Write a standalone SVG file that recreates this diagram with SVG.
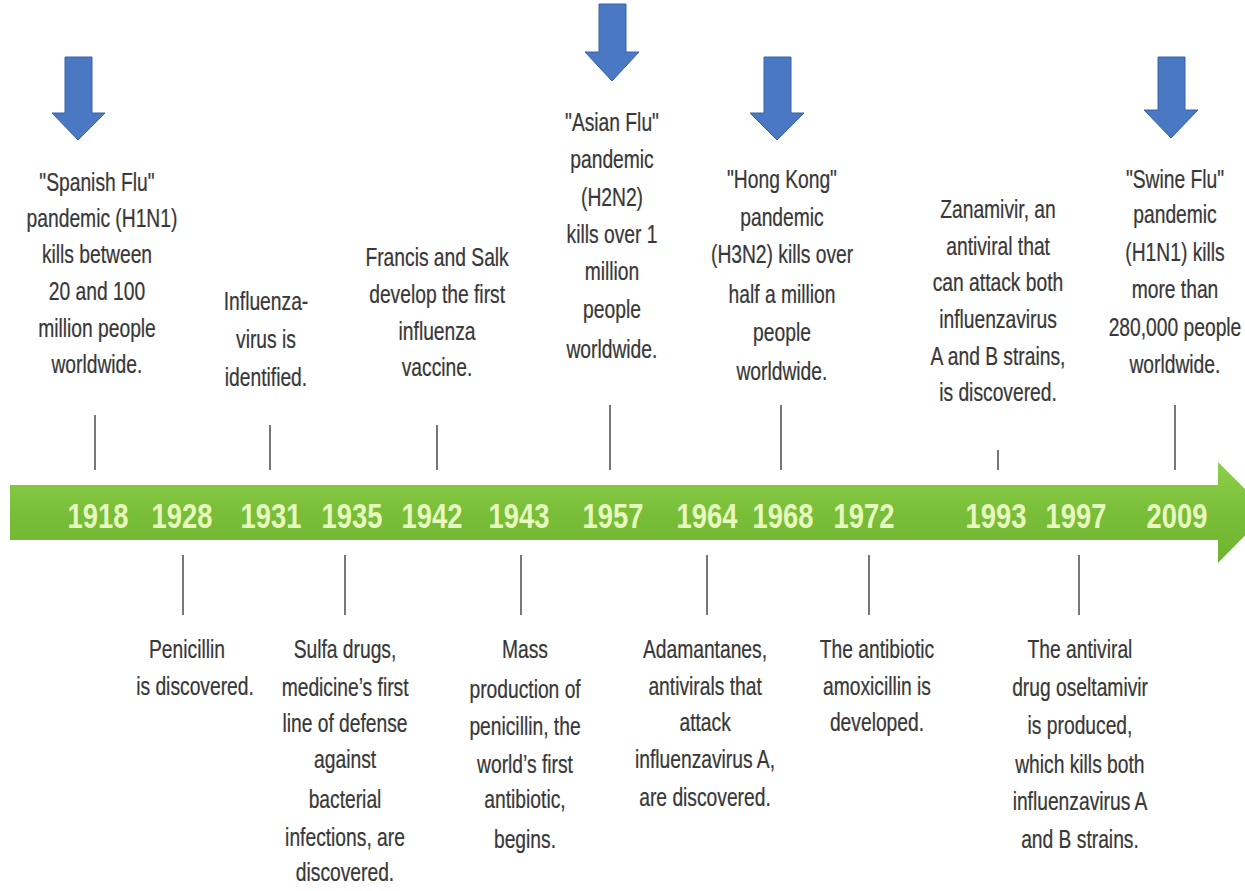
<svg xmlns="http://www.w3.org/2000/svg" width="1245" height="891" viewBox="0 0 1245 891">
<style>
.t{font-family:"Liberation Sans",Arial,sans-serif;font-size:25px;fill:#383838;stroke:#383838;stroke-width:0.25;text-anchor:middle;transform-box:fill-box;transform-origin:center;transform:scaleX(0.77)}
.yr{font-family:"Liberation Sans",Arial,sans-serif;font-size:36px;font-weight:bold;fill:#e8f9c0;text-anchor:middle;transform-box:fill-box;transform-origin:center;transform:scaleX(0.76)}
.tick{stroke:#555;stroke-width:1.6;fill:none}
.blue{fill:#4a78c2;stroke:#3a62a6;stroke-width:1}
</style>
<defs>
<linearGradient id="g" x1="0" y1="0" x2="0" y2="1">
<stop offset="0" stop-color="#8ccf4c"/>
<stop offset="0.5" stop-color="#79be38"/>
<stop offset="1" stop-color="#70b531"/>
</linearGradient>
</defs>
<rect width="1245" height="891" fill="#ffffff"/>

<g id="timeline">
<path d="M10,485 H1218 V462 L1268,512 L1218,563 V540 H10 Z" fill="url(#g)"/>
<text class="yr" x="98" y="528">1918</text>
<text class="yr" x="182" y="528">1928</text>
<text class="yr" x="271" y="528">1931</text>
<text class="yr" x="352" y="528">1935</text>
<text class="yr" x="432" y="528">1942</text>
<text class="yr" x="519" y="528">1943</text>
<text class="yr" x="613" y="528">1957</text>
<text class="yr" x="707" y="528">1964</text>
<text class="yr" x="783" y="528">1968</text>
<text class="yr" x="864" y="528">1972</text>
<text class="yr" x="996" y="528">1993</text>
<text class="yr" x="1076" y="528">1997</text>
<text class="yr" x="1177" y="528">2009</text>
</g>

<g id="connectors">
<line class="tick" x1="95" y1="415" x2="95" y2="470"/>
<line class="tick" x1="270" y1="425" x2="270" y2="470"/>
<line class="tick" x1="437" y1="425" x2="437" y2="470"/>
<line class="tick" x1="610" y1="405" x2="610" y2="470"/>
<line class="tick" x1="781" y1="405" x2="781" y2="470"/>
<line class="tick" x1="998" y1="450" x2="998" y2="470"/>
<line class="tick" x1="1175" y1="405" x2="1175" y2="470"/>
<line class="tick" x1="183" y1="555" x2="183" y2="615"/>
<line class="tick" x1="345" y1="555" x2="345" y2="615"/>
<line class="tick" x1="521" y1="555" x2="521" y2="615"/>
<line class="tick" x1="707" y1="555" x2="707" y2="615"/>
<line class="tick" x1="869" y1="555" x2="869" y2="615"/>
<line class="tick" x1="1079" y1="555" x2="1079" y2="615"/>
</g>

<g id="arrow-1918"><path class="blue" d="M65,57 H92 V113 H105 L78,140 L52,113 H65 Z"/></g>
<g id="arrow-1957"><path class="blue" d="M599,4 H626 V52 H639 L612,81 L585,52 H599 Z"/></g>
<g id="arrow-1968"><path class="blue" d="M764,57 H791 V113 H804 L777,140 L750,113 H764 Z"/></g>
<g id="arrow-2009"><path class="blue" d="M1158,57 H1185 V110 H1198 L1171,138 L1144,110 H1158 Z"/></g>

<g id="node-1918">
<text class="t" x="97" y="191">"Spanish Flu"</text>
<text class="t" x="102" y="227">pandemic  (H1N1)</text>
<text class="t" x="97" y="263">kills between</text>
<text class="t" x="97" y="300">20 and 100</text>
<text class="t" x="97" y="337">million people</text>
<text class="t" x="97" y="373">worldwide.</text>
</g>
<g id="node-1928">
<text class="t" x="187" y="658">Penicillin</text>
<text class="t" x="195" y="695">is discovered.</text>
</g>
<g id="node-1931">
<text class="t" x="266" y="310">Influenza-</text>
<text class="t" x="266" y="348">virus is</text>
<text class="t" x="266" y="386">identified.</text>
</g>
<g id="node-1935">
<text class="t" x="345" y="658">Sulfa drugs,</text>
<text class="t" x="345" y="696">medicine’s first</text>
<text class="t" x="345" y="732">line of defense</text>
<text class="t" x="345" y="768">against</text>
<text class="t" x="345" y="808">bacterial</text>
<text class="t" x="345" y="846">infections, are</text>
<text class="t" x="345" y="881">discovered.</text>
</g>
<g id="node-1942">
<text class="t" x="437" y="266">Francis and Salk</text>
<text class="t" x="437" y="303">develop the first</text>
<text class="t" x="437" y="340">influenza</text>
<text class="t" x="437" y="376">vaccine.</text>
</g>
<g id="node-1943">
<text class="t" x="525" y="658">Mass</text>
<text class="t" x="525" y="698">production of</text>
<text class="t" x="525" y="735">penicillin, the</text>
<text class="t" x="525" y="773">world’s first</text>
<text class="t" x="525" y="808">antibiotic,</text>
<text class="t" x="525" y="848">begins.</text>
</g>
<g id="node-1957">
<text class="t" x="612" y="131">"Asian Flu"</text>
<text class="t" x="612" y="168">pandemic</text>
<text class="t" x="612" y="206">(H2N2)</text>
<text class="t" x="612" y="243">kills over 1</text>
<text class="t" x="612" y="280">million</text>
<text class="t" x="612" y="318">people</text>
<text class="t" x="612" y="358">worldwide.</text>
</g>
<g id="node-1964">
<text class="t" x="705" y="658">Adamantanes,</text>
<text class="t" x="705" y="695">antivirals that</text>
<text class="t" x="705" y="731">attack</text>
<text class="t" x="705" y="768">influenzavirus A,</text>
<text class="t" x="705" y="806">are discovered.</text>
</g>
<g id="node-1968">
<text class="t" x="782" y="188">"Hong Kong"</text>
<text class="t" x="782" y="226">pandemic</text>
<text class="t" x="782" y="263">(H3N2) kills over</text>
<text class="t" x="782" y="303">half a million</text>
<text class="t" x="782" y="341">people</text>
<text class="t" x="782" y="380">worldwide.</text>
</g>
<g id="node-1972">
<text class="t" x="877" y="658">The antibiotic</text>
<text class="t" x="877" y="695">amoxicillin is</text>
<text class="t" x="877" y="731">developed.</text>
</g>
<g id="node-1993">
<text class="t" x="998" y="218">Zanamivir, an</text>
<text class="t" x="998" y="255">antiviral that</text>
<text class="t" x="998" y="291">can attack both</text>
<text class="t" x="998" y="328">influenzavirus</text>
<text class="t" x="998" y="365">A and B strains,</text>
<text class="t" x="998" y="401">is discovered.</text>
</g>
<g id="node-1997">
<text class="t" x="1080" y="658">The antiviral</text>
<text class="t" x="1080" y="696">drug oseltamivir</text>
<text class="t" x="1080" y="734">is produced,</text>
<text class="t" x="1080" y="773">which kills both</text>
<text class="t" x="1080" y="810">influenzavirus A</text>
<text class="t" x="1080" y="848">and B strains.</text>
</g>
<g id="node-2009">
<text class="t" x="1175" y="188">"Swine Flu"</text>
<text class="t" x="1175" y="223">pandemic</text>
<text class="t" x="1175" y="261">(H1N1) kills</text>
<text class="t" x="1175" y="298">more than</text>
<text class="t" x="1175" y="336">280,000 people</text>
<text class="t" x="1175" y="373">worldwide.</text>
</g>
</svg>
